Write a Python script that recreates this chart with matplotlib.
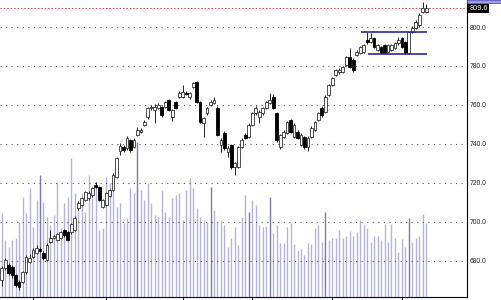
import numpy as np
import matplotlib
matplotlib.use("Agg")
import matplotlib.pyplot as plt
import matplotlib.transforms as mtransforms
from matplotlib.patches import Rectangle

# OHLC (one candle per session)
opens = [670.3, 676.4, 678.0, 676.9, 672.8, 669.2, 669.2, 674.4, 679.5, 682.1,
         684.1, 686.2, 684.1, 680.5, 689.7, 691.8, 690.8, 691.8, 695.9, 694.9,
         694.9, 695.9, 707.2, 708.7, 711.3, 712.3, 713.8, 719.0, 717.9, 707.7,
         708.7, 713.3, 716.4, 723.1, 736.4, 738.5, 737.9, 742.1, 738.5, 744.6,
         746.2, 749.7, 753.8, 758.5, 757.4, 758.5, 759.0, 759.0, 762.6, 753.8,
         761.5, 764.1, 764.1, 766.2, 764.1, 769.2, 771.8, 761.5, 750.8, 755.9,
         760.0, 761.0, 758.5, 739.5, 745.6, 735.9, 739.5, 728.2, 728.2, 738.5,
         744.6, 743.6, 749.7, 755.9, 753.8, 755.9, 758.5, 761.0, 764.1, 755.9,
         738.5, 743.6, 745.6, 752.3, 743.6, 746.2, 739.5, 743.6, 738.5, 743.6,
         747.2, 752.3, 758.5, 756.4, 765.1, 770.3, 775.4, 776.9, 776.9, 780.5,
         784.6, 783.1, 785.6, 786.7, 787.2, 793.3, 792.3, 794.4, 788.2, 789.7,
         790.8, 787.2, 788.2, 789.2, 791.8, 794.4, 792.3, 786.7, 797.4, 799.5,
         801.0, 807.7, 807.7]
highs = [677.5, 681.5, 679.0, 678.0, 673.5, 670.0, 675.0, 683.0, 683.5, 686.5,
         688.0, 687.0, 685.0, 689.0, 695.9, 693.5, 694.5, 695.5, 696.5, 695.5,
         699.5, 702.8, 710.5, 713.0, 716.0, 715.8, 718.0, 720.5, 718.5, 712.0,
         715.5, 717.0, 725.0, 733.5, 740.5, 739.5, 744.0, 742.8, 743.0, 748.5,
         748.0, 752.5, 759.0, 760.0, 760.5, 761.0, 759.5, 762.0, 763.0, 758.0,
         762.0, 767.0, 770.3, 767.0, 766.8, 772.0, 772.5, 762.0, 754.0, 759.0,
         762.5, 764.0, 759.5, 743.0, 746.5, 739.0, 740.0, 731.0, 739.0, 743.0,
         745.5, 750.5, 756.5, 759.5, 757.5, 759.0, 762.0, 766.2, 765.5, 756.5,
         745.0, 747.0, 752.0, 753.0, 750.5, 747.0, 745.5, 744.0, 744.0, 749.0,
         752.0, 756.5, 759.5, 765.0, 771.0, 774.5, 778.5, 779.0, 780.0, 785.3,
         789.0, 784.0, 788.0, 790.5, 791.5, 797.4, 797.0, 795.0, 791.5, 790.5,
         791.3, 791.5, 791.5, 792.5, 795.0, 795.0, 793.0, 798.0, 800.5, 803.5,
         807.0, 812.8, 812.0]
lows = [667.0, 675.5, 673.0, 671.5, 666.5, 665.1, 668.5, 673.5, 679.0, 681.5,
        683.5, 684.5, 680.5, 680.0, 689.0, 691.0, 690.0, 691.0, 692.5, 690.0,
        694.0, 695.3, 706.0, 708.0, 710.5, 711.5, 713.0, 717.4, 710.5, 707.0,
        708.0, 712.8, 716.0, 722.5, 734.5, 736.0, 737.0, 736.0, 738.0, 744.0,
        745.5, 749.0, 753.0, 757.5, 750.8, 758.0, 754.0, 758.5, 756.8, 752.0,
        758.0, 763.5, 763.5, 765.0, 763.0, 768.5, 761.0, 750.8, 743.6, 755.0,
        759.5, 760.5, 744.0, 736.0, 737.0, 733.5, 727.0, 724.1, 727.5, 738.0,
        742.5, 743.0, 749.0, 755.0, 751.0, 755.0, 758.0, 760.5, 758.0, 741.0,
        737.5, 743.0, 745.0, 745.5, 743.0, 742.5, 739.0, 737.5, 736.5, 743.0,
        746.5, 752.0, 754.0, 756.0, 764.5, 769.5, 775.0, 776.0, 776.5, 780.0,
        779.0, 776.9, 785.0, 786.0, 786.5, 791.5, 791.8, 789.0, 787.5, 786.2,
        786.2, 786.5, 787.7, 788.7, 791.0, 789.2, 786.2, 786.2, 797.0, 799.0,
        800.0, 807.2, 807.0]
closes = [676.4, 680.5, 673.8, 672.8, 667.7, 666.7, 674.4, 682.1, 681.5, 685.6,
          686.7, 685.1, 681.5, 688.2, 691.8, 692.8, 693.8, 694.9, 693.3, 690.8,
          699.0, 702.1, 709.7, 712.3, 715.4, 714.9, 717.4, 717.9, 711.3, 711.3,
          714.9, 716.4, 724.1, 732.8, 739.0, 736.9, 743.1, 736.9, 742.1, 747.2,
          747.2, 751.3, 758.5, 759.0, 759.0, 760.0, 754.9, 761.5, 757.4, 757.4,
          758.5, 766.2, 766.7, 765.6, 766.2, 771.3, 761.5, 751.3, 753.3, 758.5,
          761.5, 762.6, 744.6, 742.1, 737.9, 737.9, 728.2, 730.3, 738.5, 742.1,
          743.1, 749.7, 755.9, 758.5, 756.4, 758.5, 761.5, 762.6, 758.5, 742.1,
          744.6, 746.2, 751.3, 746.2, 749.7, 743.1, 744.6, 738.5, 743.1, 748.2,
          751.3, 755.9, 754.9, 764.1, 770.3, 773.8, 778.0, 778.0, 779.5, 784.6,
          779.5, 778.0, 787.2, 789.7, 790.8, 792.3, 794.4, 789.7, 790.8, 786.7,
          786.7, 790.8, 790.8, 791.8, 793.3, 789.7, 786.7, 797.4, 799.5, 802.6,
          806.2, 809.7, 809.6]

# volume (arbitrary units, no scale shown on the chart)
volume = [84, 57, 50, 57, 59, 75, 100, 84, 109, 70,
          97, 122, 95, 80, 72, 82, 115, 69, 94, 100,
          139, 104, 95, 104, 85, 122, 100, 115, 67, 69,
          120, 114, 109, 90, 94, 74, 79, 109, 104, 155,
          107, 97, 114, 94, 82, 80, 107, 85, 80, 99,
          102, 104, 77, 107, 119, 109, 89, 80, 77, 75,
          110, 87, 75, 77, 72, 50, 59, 70, 52, 80,
          102, 85, 97, 92, 72, 70, 71, 100, 64, 72,
          54, 54, 70, 74, 53, 47, 48, 42, 54, 53,
          69, 72, 55, 85, 57, 59, 59, 67, 59, 61,
          66, 61, 65, 77, 72, 69, 55, 61, 61, 57,
          73, 55, 73, 59, 45, 58, 50, 79, 55, 59,
          61, 83, 74]
dark_vol = [11, 39, 60, 71, 77, 93, 117]

last_price = 809.6
box_top, box_bottom = 797.6, 786.2
box_top_span = (103.3, 122.2)
box_bottom_span = (105.3, 122.2)
month_ticks = [9, 30, 52, 72, 95, 115]
price_ticks = [680, 700, 720, 740, 760, 780, 800]

n = len(closes)
x = np.arange(n)
o = np.array(opens); h = np.array(highs); l = np.array(lows); c = np.array(closes)

fig = plt.figure(figsize=(5.01, 3.0), dpi=100)
ax = fig.add_axes([0, 3/300, 467/501, 297/300])
axv = ax.twinx()

# volume behind the candles
vcol = ['#7a7aae' if i in dark_vol else '#b4b4da' for i in range(n)]
axv.vlines(x, 0, volume, colors=vcol, linewidth=1.0)
axv.set_ylim(0, 297)
axv.set_yticks([])
for s in axv.spines.values():
    s.set_visible(False)
ax.set_zorder(axv.get_zorder() + 1)
ax.patch.set_visible(False)

# grid and reference lines
for p in price_ticks:
    ax.axhline(p, color='#555555', lw=0.8, ls=(0, (1, 4)), zorder=1)
ax.axhline(last_price, color='#d04040', lw=0.7, ls=(0, (1.5, 2)), zorder=1)

# candles
ax.vlines(x, l, h, colors='#222222', linewidth=0.7, zorder=2)
up = c >= o
body_low = np.minimum(o, c)
body_h = np.maximum(np.abs(c - o), 0.35)
ax.bar(x[up], body_h[up], 0.8, bottom=body_low[up], facecolor='white',
       edgecolor='#333333', linewidth=0.6, zorder=3)
ax.bar(x[~up], body_h[~up], 0.8, bottom=body_low[~up], facecolor='black',
       edgecolor='black', linewidth=0.6, zorder=3)

# consolidation box
ax.hlines(box_top, *box_top_span, color='#2a2aa0', lw=1.2, zorder=4)
ax.hlines(box_bottom, *box_bottom_span, color='#2a2aa0', lw=1.2, zorder=4)

ax.set_xlim(-0.49, 133.7)
ax.set_ylim(661.5, 813.85)

ax.yaxis.tick_right()
ax.set_yticks(price_ticks)
ax.set_yticklabels([f"{p:.1f}" for p in price_ticks])
ax.tick_params(axis='y', length=0, pad=2, labelsize=4.9, colors='#222222')
ax.set_xticks(month_ticks)
ax.set_xticklabels([])
ax.tick_params(axis='x', length=2, width=0.6, direction='out')
for s in ['top', 'left']:
    ax.spines[s].set_visible(False)
ax.spines['right'].set_linewidth(0.8)
ax.spines['bottom'].set_linewidth(0.8)
for lab in ax.get_yticklabels():
    lab.set_family('Liberation Sans')

trans = mtransforms.blended_transform_factory(ax.transAxes, ax.transData)
ax.text(1.005, last_price, f"{last_price:.1f}", transform=trans, color='white',
        fontsize=5.3, family='Liberation Sans', va='center', ha='left',
        bbox=dict(facecolor='black', edgecolor='none', pad=0.8), clip_on=False)
fig.patches.append(Rectangle((467/501, 297/300), 34/501, 3/300, transform=fig.transFigure,
                             facecolor='#9c9ce0', edgecolor='#4040a0', lw=0.5))

fig.savefig('out.png', dpi=100)
